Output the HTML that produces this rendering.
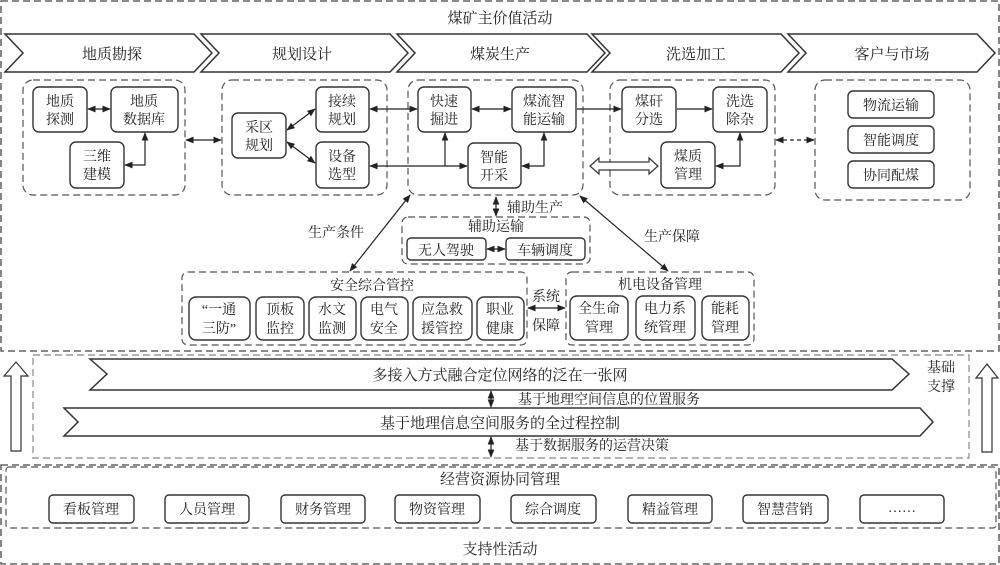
<!DOCTYPE html>
<html><head><meta charset="utf-8"><style>
html,body{margin:0;padding:0;background:#fff;}
svg{display:block;}
text{font-family:"Liberation Serif","Noto Serif CJK SC",serif;fill:#222;}
</style></head><body>
<svg width="1000" height="565" viewBox="0 0 1000 565" xmlns="http://www.w3.org/2000/svg">
<defs>
<marker id="a" viewBox="0 0 10 10" refX="9" refY="5" markerWidth="7" markerHeight="7" orient="auto-start-reverse"><path d="M0,1 L10,5 L0,9 z" fill="#222"/></marker>
</defs>
<g fill="none" stroke="#444" stroke-width="1.3" stroke-dasharray="7,4">
<rect x="1" y="1" width="998" height="350"/>
<rect x="1" y="465" width="998" height="99"/>
</g>
<g fill="none" stroke="#888" stroke-width="1.2" stroke-dasharray="7,4">
<rect x="33" y="355" width="936" height="103"/>
</g>
<g fill="none" stroke="#555" stroke-width="1.2" stroke-dasharray="7,4">
<rect x="6" y="467" width="990" height="61" rx="3"/>
<rect x="23" y="80" width="162" height="115" rx="10"/>
<rect x="222" y="80" width="165" height="115" rx="10"/>
<rect x="408" y="80" width="175" height="115" rx="10"/>
<rect x="610" y="80" width="165" height="115" rx="10"/>
<rect x="815" y="80" width="155" height="120" rx="10"/>
<rect x="402" y="217" width="188" height="47" rx="6"/>
<rect x="182" y="272" width="345" height="73" rx="6"/>
<rect x="566" y="272" width="188" height="73" rx="6"/>
</g>
<!-- top chevrons -->
<g fill="#fff" stroke="#333" stroke-width="1.5">
<path d="M5,34 L194,34 L212,53 L194,72 L5,72 L23,53 Z"/>
<path d="M201,34 L390,34 L408,53 L390,72 L201,72 L219,53 Z"/>
<path d="M397,34 L587,34 L605,53 L587,72 L397,72 L415,53 Z"/>
<path d="M592,34 L781,34 L799,53 L781,72 L592,72 L610,53 Z"/>
<path d="M788,34 L977,34 L995,53 L977,72 L788,72 L806,53 Z"/>
<path d="M90,359 L892,359 L909,374 L892,390 L90,390 L107,374 Z"/>
<path d="M64,408 L920,408 L933,422 L920,436 L64,436 L78,422 Z"/>
</g>
<g font-size="15" text-anchor="middle">
<text x="500" y="23">煤矿主价值活动</text>
<text x="112" y="59">地质勘探</text>
<text x="302" y="59">规划设计</text>
<text x="500" y="59">煤炭生产</text>
<text x="696" y="59">洗选加工</text>
<text x="892" y="59">客户与市场</text>
<text x="500" y="380">多接入方式融合定位网络的泛在一张网</text>
<text x="500" y="428">基于地理信息空间服务的全过程控制</text>
<text x="500" y="484">经营资源协同管理</text>
<text x="500" y="554">支持性活动</text>
</g>
<!-- nodes -->
<g fill="#fff" stroke="#333" stroke-width="1.4">
<rect x="33" y="87" width="54" height="45" rx="6"/>
<rect x="111" y="87" width="67" height="45" rx="6"/>
<rect x="70" y="142" width="54" height="46" rx="6"/>
<rect x="232" y="113" width="54" height="45" rx="6"/>
<rect x="316" y="87" width="53" height="45" rx="6"/>
<rect x="316" y="142" width="53" height="46" rx="6"/>
<rect x="418" y="87" width="53" height="45" rx="6"/>
<rect x="512" y="87" width="64" height="45" rx="6"/>
<rect x="468" y="143" width="53" height="45" rx="6"/>
<rect x="622" y="87" width="54" height="45" rx="6"/>
<rect x="713" y="87" width="54" height="45" rx="6"/>
<rect x="661" y="142" width="54" height="46" rx="6"/>
<rect x="848" y="91" width="86" height="27" rx="5"/>
<rect x="848" y="126" width="86" height="27" rx="5"/>
<rect x="848" y="161" width="86" height="27" rx="5"/>
<rect x="407" y="238" width="79" height="22" rx="4"/>
<rect x="506" y="238" width="79" height="22" rx="4"/>
<rect x="189" y="297" width="61" height="43" rx="7"/>
<rect x="256" y="297" width="48" height="43" rx="7"/>
<rect x="309" y="297" width="47" height="43" rx="7"/>
<rect x="361" y="297" width="47" height="43" rx="7"/>
<rect x="413" y="297" width="59" height="43" rx="7"/>
<rect x="477" y="297" width="47" height="43" rx="7"/>
<rect x="570" y="296" width="58" height="44" rx="7"/>
<rect x="636" y="296" width="59" height="44" rx="7"/>
<rect x="702" y="296" width="47" height="44" rx="7"/>
<rect x="49" y="495" width="85" height="28" rx="4"/>
<rect x="165" y="495" width="84" height="28" rx="4"/>
<rect x="281" y="495" width="84" height="28" rx="4"/>
<rect x="395" y="495" width="85" height="28" rx="4"/>
<rect x="511" y="495" width="85" height="28" rx="4"/>
<rect x="628" y="495" width="84" height="28" rx="4"/>
<rect x="743" y="495" width="85" height="28" rx="4"/>
<rect x="860" y="495" width="84" height="28" rx="4"/>
</g>
<g font-size="14" text-anchor="middle">
<text x="60" y="106">地质</text><text x="60" y="124">探测</text>
<text x="144" y="106">地质</text><text x="144" y="124">数据库</text>
<text x="97" y="161">三维</text><text x="97" y="179">建模</text>
<text x="259" y="132">采区</text><text x="259" y="150">规划</text>
<text x="342" y="106">接续</text><text x="342" y="124">规划</text>
<text x="342" y="161">设备</text><text x="342" y="179">选型</text>
<text x="444" y="106">快速</text><text x="444" y="124">掘进</text>
<text x="544" y="106">煤流智</text><text x="544" y="124">能运输</text>
<text x="494" y="162">智能</text><text x="494" y="180">开采</text>
<text x="649" y="106">煤矸</text><text x="649" y="124">分选</text>
<text x="740" y="106">洗选</text><text x="740" y="124">除杂</text>
<text x="688" y="161">煤质</text><text x="688" y="179">管理</text>
<text x="891" y="110">物流运输</text>
<text x="891" y="145">智能调度</text>
<text x="891" y="180">协同配煤</text>
<text x="535" y="212">辅助生产</text>
<text x="496" y="231">辅助运输</text>
<text x="446" y="255">无人驾驶</text>
<text x="545" y="255">车辆调度</text>
<text x="336" y="237">生产条件</text>
<text x="672" y="241">生产保障</text>
<text x="372" y="290">安全综合管控</text>
<text x="660" y="289">机电设备管理</text>
<text x="219" y="314">“一通</text><text x="219" y="333">三防”</text>
<text x="280" y="314">顶板</text><text x="280" y="333">监控</text>
<text x="332" y="314">水文</text><text x="332" y="333">监测</text>
<text x="384" y="314">电气</text><text x="384" y="333">安全</text>
<text x="442" y="314">应急救</text><text x="442" y="333">援管控</text>
<text x="500" y="314">职业</text><text x="500" y="333">健康</text>
<text x="546" y="301">系统</text><text x="546" y="330">保障</text>
<text x="599" y="313">全生命</text><text x="599" y="332">管理</text>
<text x="665" y="313">电力系</text><text x="665" y="332">统管理</text>
<text x="725" y="313">能耗</text><text x="725" y="332">管理</text>
<text x="609" y="404">基于地理空间信息的位置服务</text>
<text x="592" y="450">基于数据服务的运营决策</text>
<text x="941" y="372">基础</text><text x="941" y="391">支撑</text>
<text x="91" y="514">看板管理</text>
<text x="207" y="514">人员管理</text>
<text x="323" y="514">财务管理</text>
<text x="437" y="514">物资管理</text>
<text x="553" y="514">综合调度</text>
<text x="670" y="514">精益管理</text>
<text x="785" y="514">智慧营销</text>
<text x="902" y="512">……</text>
</g>
<!-- connectors -->
<g fill="none" stroke="#222" stroke-width="1.2">
<line x1="88" y1="109" x2="110" y2="109" marker-start="url(#a)" marker-end="url(#a)"/>
<polyline points="125,165 145,165 145,133" marker-start="url(#a)" marker-end="url(#a)"/>
<line x1="186" y1="140" x2="221" y2="140" marker-start="url(#a)" marker-end="url(#a)"/>
<line x1="287" y1="130" x2="315" y2="109" marker-start="url(#a)" marker-end="url(#a)"/>
<line x1="287" y1="142" x2="315" y2="163" marker-start="url(#a)" marker-end="url(#a)"/>
<line x1="370" y1="109" x2="417" y2="109" marker-start="url(#a)" marker-end="url(#a)"/>
<line x1="370" y1="166" x2="467" y2="166" marker-start="url(#a)" marker-end="url(#a)"/>
<line x1="445" y1="166" x2="445" y2="133" marker-end="url(#a)"/>
<line x1="472" y1="109" x2="511" y2="109" marker-start="url(#a)" marker-end="url(#a)"/>
<polyline points="522,166 544,166 544,133" marker-start="url(#a)" marker-end="url(#a)"/>
<line x1="577" y1="109" x2="621" y2="109" marker-end="url(#a)"/>
<line x1="677" y1="109" x2="712" y2="109" marker-end="url(#a)"/>
<polyline points="716,166 740,166 740,133" marker-start="url(#a)" marker-end="url(#a)"/>
<line x1="776" y1="140" x2="814" y2="140" stroke-dasharray="4,3" marker-start="url(#a)" marker-end="url(#a)"/>
<line x1="496" y1="197" x2="496" y2="216" marker-start="url(#a)" marker-end="url(#a)"/>
<line x1="487" y1="249" x2="505" y2="249" marker-start="url(#a)" marker-end="url(#a)"/>
<line x1="410" y1="195" x2="350" y2="271" marker-start="url(#a)" marker-end="url(#a)"/>
<line x1="580" y1="196" x2="668" y2="271" marker-start="url(#a)" marker-end="url(#a)"/>
<line x1="528" y1="308" x2="565" y2="308" marker-start="url(#a)" marker-end="url(#a)"/>
<line x1="491" y1="391" x2="491" y2="407" marker-start="url(#a)" marker-end="url(#a)"/>
<line x1="491" y1="437" x2="491" y2="457" marker-start="url(#a)" marker-end="url(#a)"/>
</g>
<!-- hollow arrows -->
<g fill="#fff" stroke="#333" stroke-width="1.2">
<path d="M590,166 L599,158 L599,162 L649,162 L649,158 L658,166 L649,174 L649,170 L599,170 L599,174 Z"/>
<path d="M11,451 L11,376 L4,376 L16,362 L28,376 L21,376 L21,451 Z"/>
<path d="M982,452 L982,378 L976,378 L987,364 L998,378 L992,378 L992,452 Z"/>
</g>
</svg>
</body></html>
